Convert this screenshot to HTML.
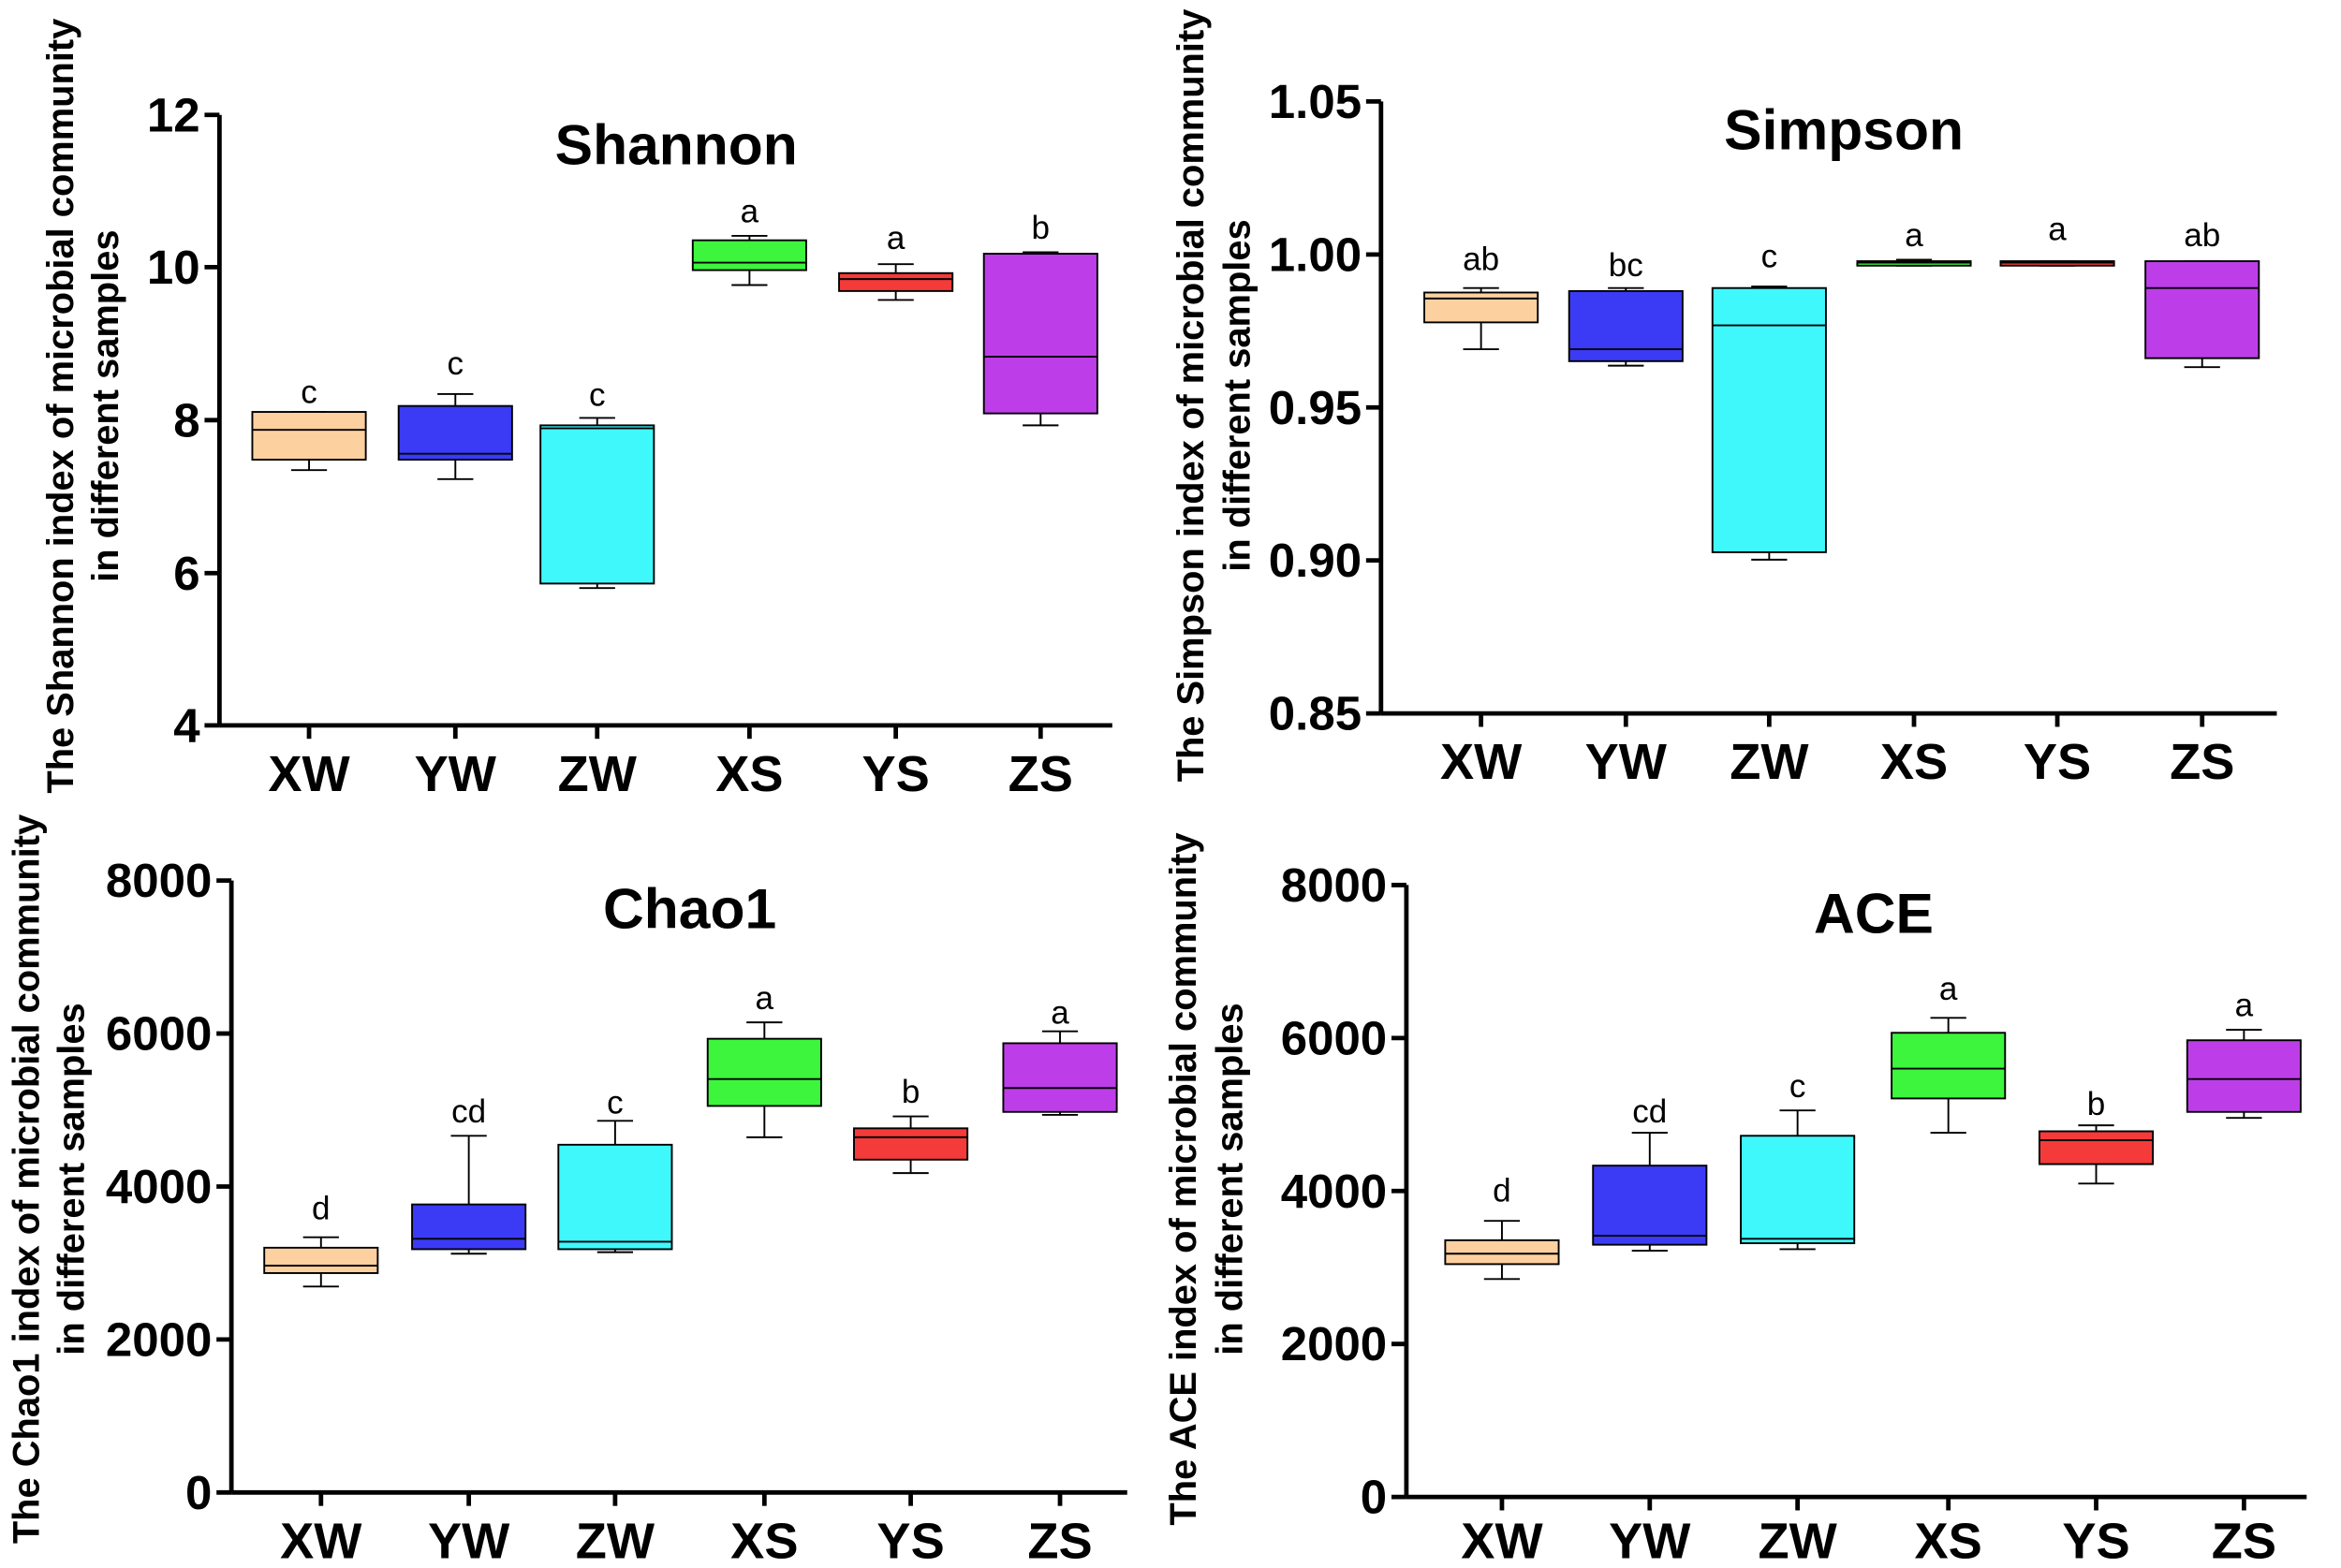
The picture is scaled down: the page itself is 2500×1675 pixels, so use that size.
<!DOCTYPE html>
<html><head><meta charset="utf-8"><style>
html,body{margin:0;padding:0;background:#fff;}
svg{display:block;}
text{font-family:"Liberation Sans",Arial,sans-serif;}
</style></head><body>
<svg id="s" width="2500" height="1675" viewBox="0 0 1568 1050.6" preserveAspectRatio="none" xmlns="http://www.w3.org/2000/svg"></svg>
<script>
const cols=["#fdd0a0","#3b3bf5","#3ff8fc","#3cf53c","#f53a3a","#bd3ee8"];
const cats=["XW","YW","ZW","XS","YS","ZS"];
const P=[
{ax:147,top:77,bot:486,xend:745,ticks:[["12",77],["10",179],["8",281.5],["6",384],["4",486]],xs:[207,305,400,502,600,697],laby:518,title:"Shannon",tx:453,ty:97,
 yl:["The Shannon index of microbial community","in different samples"],ylx:[40,70],lyc:272,
 b:[[276,308,288,276,315,"c",262],[272,308,304,264,321,"c",243],[285,391,287,280,394,"c",264],[161,181,176,158,191,"a",141],[183,195,187,177,201,"a",159],[170,277,239,169,285,"b",152]]},
{ax:925,top:68,bot:478,xend:1525,ticks:[["1.05",68],["1.00",170.5],["0.95",273],["0.90",375.5],["0.85",478]],xs:[992,1089,1185,1282,1378,1475],laby:510,title:"Simpson",tx:1235,ty:87,
 yl:["The Simpson index of microbial community","in different samples"],ylx:[797,828],lyc:265,
 b:[[196,216,200,193,234,"ab",173],[195,242,234,193,245,"bc",177],[193,370,218,192,375,"c",171],[175,178,176,174,178,"a",157],[175,178,176,175,178,"a",153],[175,240,193,175,246,"ab",157]]},
{ax:155,top:590,bot:1000,xend:755,ticks:[["8000",590],["6000",692.5],["4000",795],["2000",897.5],["0",1000]],xs:[215,314,412,512,610,710],laby:1032,title:"Chao1",tx:462,ty:609,
 yl:["The Chao1 index of microbial community","in different samples"],ylx:[17,47],lyc:790,
 b:[[836,853,848,829,862,"d",809],[807,837,830,761,840,"cd",744],[767,837,832,751,839,"c",738],[696,741,723,685,762,"a",668],[756,777,762,748,786,"b",731],[699,745,729,691,747,"a",678]]},
{ax:942,top:593,bot:1003,xend:1545,ticks:[["8000",593],["6000",695.5],["4000",798],["2000",900.5],["0",1003]],xs:[1006,1105,1204,1305,1404,1503],laby:1032,title:"ACE",tx:1255,ty:612,
 yl:["The ACE index of microbial community","in different samples"],ylx:[792,823],lyc:790,
 b:[[831,847,840,818,857,"d",797],[781,834,828,759,838,"cd",744],[761,833,830,744,837,"c",727],[692,736,716,682,759,"a",662],[758,780,764,754,793,"b",739],[697,745,723,690,749,"a",673]]}
];
let h="";
for(const p of P){
 h+=`<line x1="${p.ax}" y1="${p.top}" x2="${p.ax}" y2="${p.bot}" stroke="#000" stroke-width="3"/>`;
 h+=`<line x1="${p.ax}" y1="${p.bot}" x2="${p.xend}" y2="${p.bot}" stroke="#000" stroke-width="3"/>`;
 for(const [t,y] of p.ticks){h+=`<line x1="${p.ax-10}" y1="${y}" x2="${p.ax}" y2="${y}" stroke="#000" stroke-width="3"/><text x="${p.ax-13}" y="${y+11}" font-size="32" font-weight="bold" text-anchor="end">${t}</text>`;}
 p.xs.forEach((x,i)=>{
  h+=`<line x1="${x}" y1="${p.bot}" x2="${x}" y2="${p.bot+9}" stroke="#000" stroke-width="3"/>`;
  h+=`<text x="${x}" y="${p.laby+12}" font-size="34" font-weight="bold" text-anchor="middle">${cats[i]}</text>`;
  const [q3,q1,m,wt,wb,l,ly]=p.b[i];const w=38;
  h+=`<line x1="${x}" y1="${wt}" x2="${x}" y2="${wb}" stroke="#000" stroke-width="1.2"/>`;
  h+=`<line x1="${x-12}" y1="${wt}" x2="${x+12}" y2="${wt}" stroke="#000" stroke-width="1.2"/><line x1="${x-12}" y1="${wb}" x2="${x+12}" y2="${wb}" stroke="#000" stroke-width="1.2"/>`;
  h+=`<rect x="${x-w}" y="${q3}" width="${2*w}" height="${Math.max(q1-q3,2)}" fill="${cols[i]}" stroke="#000" stroke-width="1.2"/>`;
  h+=`<line x1="${x-w}" y1="${m}" x2="${x+w}" y2="${m}" stroke="#000" stroke-width="1.2"/>`;
  h+=`<text x="${x}" y="${ly+8}" font-size="22" text-anchor="middle">${l}</text>`;
 });
 h+=`<text x="${p.tx}" y="${p.ty+13}" font-size="38" font-weight="bold" text-anchor="middle">${p.title}</text>`;
 p.yl.forEach((t,k)=>{const x=p.ylx[k];h+=`<text transform="translate(${x+9},${p.lyc}) rotate(-90)" font-size="25" font-weight="bold" text-anchor="middle">${t}</text>`;});
}
document.getElementById("s").innerHTML=h;
</script>
</body></html>
